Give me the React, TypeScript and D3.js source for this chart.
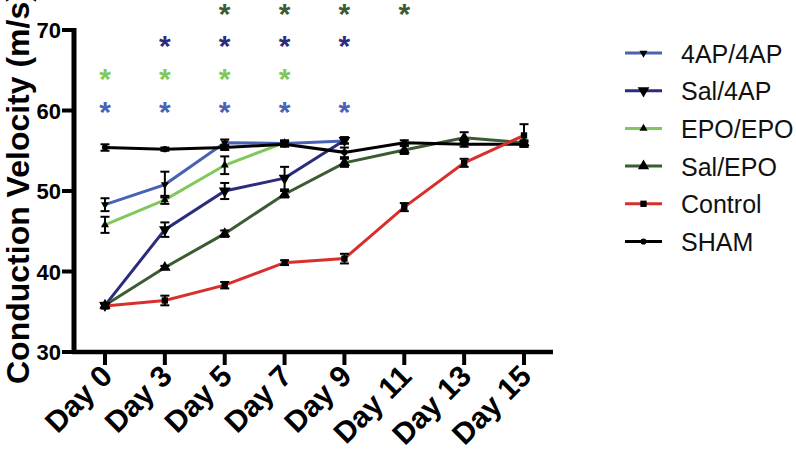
import React, { useEffect, useRef } from 'react';
import * as d3 from 'd3';

const days = ['Day 0', 'Day 3', 'Day 5', 'Day 7', 'Day 9', 'Day 11', 'Day 13', 'Day 15'];
const yTicks = [30, 40, 50, 60, 70];

const ap4ap = [48.3, 50.8, 56.0, 55.9, 56.2];
const ap4apErr = [0.8, 1.6, 0.4, 0.3, 0.3];
const sal4ap = [35.8, 45.2, 50.0, 51.6, 56.3];
const sal4apErr = [0.3, 0.9, 1.0, 1.4, 0.4];
const epoepo = [45.8, 48.9, 53.2, 56.0];
const epoepoErr = [1.0, 0.5, 1.1, 0.3];
const salepo = [35.8, 40.5, 44.7, 49.6, 53.5, 55.1, 56.6, 56.0];
const salepoErr = [0.3, 0.2, 0.4, 0.4, 0.5, 0.5, 0.7, 0.3];
const control = [35.7, 36.4, 38.3, 41.1, 41.6, 48.0, 53.5, 56.9];
const controlErr = [0.3, 0.6, 0.4, 0.3, 0.6, 0.5, 0.5, 1.4];
const sham = [55.4, 55.2, 55.4, 55.8, 54.8, 56.0, 55.8, 55.8];
const shamErr = [0.4, 0.2, 0.3, 0.3, 0.6, 0.3, 0.3, 0.3];

// significance stars: row level + days
const starsSalEpo = ['Day 5', 'Day 7', 'Day 9', 'Day 11'];
const starsSal4ap = ['Day 3', 'Day 5', 'Day 7', 'Day 9'];
const starsEpo = ['Day 0', 'Day 3', 'Day 5', 'Day 7'];
const stars4ap = ['Day 0', 'Day 3', 'Day 5', 'Day 7', 'Day 9'];

const series = [
  { name: '4AP/4AP', values: ap4ap, err: ap4apErr, color: '#4a62b4', symbol: 'down', size: 28 },
  { name: 'Sal/4AP', values: sal4ap, err: sal4apErr, color: '#2b2d7c', symbol: 'downBig', size: 60 },
  { name: 'EPO/EPO', values: epoepo, err: epoepoErr, color: '#80c85a', symbol: 'up', size: 28 },
  { name: 'Sal/EPO', values: salepo, err: salepoErr, color: '#3b5c33', symbol: 'upBig', size: 55 },
  { name: 'Control', values: control, err: controlErr, color: '#d82f2d', symbol: 'square', size: 40 },
  { name: 'SHAM', values: sham, err: shamErr, color: '#000000', symbol: 'circle', size: 30 },
];

const drawOrder = ['4AP/4AP', 'Sal/4AP', 'EPO/EPO', 'Sal/EPO', 'SHAM', 'Control'];

const starRows = [
  { level: 72.7, days: starsSalEpo, color: '#3b5c33' },
  { level: 68.7, days: starsSal4ap, color: '#2b2d7c' },
  { level: 64.7, days: starsEpo, color: '#80c85a' },
  { level: 60.6, days: stars4ap, color: '#4a62b4' },
];

function symPath(kind: string, size: number) {
  const t = kind === 'square' ? d3.symbolSquare : kind === 'circle' ? d3.symbolCircle : d3.symbolTriangle;
  return d3.symbol().type(t).size(size)();
}

export default function App() {
  const ref = useRef<SVGSVGElement>(null);

  useEffect(() => {
    const svg = d3.select(ref.current);
    svg.selectAll('*').remove();

    const x = d3.scalePoint().domain(days).range([105, 524]);
    const y = d3.scaleLinear().domain([30, 70]).range([352, 30]);
    const font = 'Liberation Sans, Arial, Helvetica, sans-serif';

    // axes
    const g = svg.append('g');
    g.append('line').attr('x1', 74).attr('x2', 74).attr('y1', y(70) - 2).attr('y2', 354)
      .attr('stroke', '#000').attr('stroke-width', 5);
    g.append('line').attr('x1', 72).attr('x2', 553).attr('y1', 352).attr('y2', 352)
      .attr('stroke', '#000').attr('stroke-width', 4.5);

    yTicks.forEach(t => {
      g.append('line').attr('x1', 62).attr('x2', 74).attr('y1', y(t)).attr('y2', y(t))
        .attr('stroke', '#000').attr('stroke-width', 4);
      g.append('text').attr('x', 61).attr('y', y(t) + 8).attr('text-anchor', 'end')
        .style('font-family', font).style('font-weight', 'bold').style('font-size', '22px')
        .text(t);
    });

    days.forEach(d => {
      const px = x(d)!;
      g.append('line').attr('x1', px).attr('x2', px).attr('y1', 352).attr('y2', 365)
        .attr('stroke', '#000').attr('stroke-width', 4);
      g.append('text').attr('text-anchor', 'end')
        .attr('transform', `translate(${px + 9}, ${378}) rotate(-45)`)
        .style('font-family', font).style('font-weight', 'bold').style('font-size', '30px')
        .text(d);
    });

    svg.append('text').attr('text-anchor', 'start')
      .attr('transform', `translate(29, 384) rotate(-90)`)
      .style('font-family', font).style('font-weight', 'bold').style('font-size', '32px')
      .text('Conduction Velocity (m/s)');

    // lines
    const line = d3.line<number>().x((_, i) => x(days[i])!).y(v => y(v));
    drawOrder.forEach(n => {
      const s = series.find(e => e.name === n)!;
      svg.append('path').datum(s.values).attr('d', line).attr('fill', 'none')
        .attr('stroke', s.color).attr('stroke-width', 3);
    });

    // error bars + markers
    series.forEach(s => {
      s.values.forEach((v, i) => {
        const px = x(days[i])!;
        const e = s.err[i];
        const eb = svg.append('g').attr('stroke', '#000').attr('stroke-width', 2);
        eb.append('line').attr('x1', px).attr('x2', px).attr('y1', y(v + e)).attr('y2', y(v - e));
        eb.append('line').attr('x1', px - 4.5).attr('x2', px + 4.5).attr('y1', y(v + e)).attr('y2', y(v + e));
        eb.append('line').attr('x1', px - 4.5).attr('x2', px + 4.5).attr('y1', y(v - e)).attr('y2', y(v - e));
        const rot = s.symbol.startsWith('down') ? 180 : 0;
        svg.append('path').attr('d', symPath(s.symbol, s.size))
          .attr('transform', `translate(${px}, ${y(v)}) rotate(${rot})`).attr('fill', '#000');
      });
    });

    // significance stars
    starRows.forEach(r => {
      r.days.forEach(d => {
        svg.append('text').attr('x', x(d)!).attr('y', y(r.level) + 16).attr('text-anchor', 'middle')
          .style('font-family', font).style('font-weight', 'bold').style('font-size', '30px')
          .attr('fill', r.color).text('*');
      });
    });

    // legend
    series.forEach((s, i) => {
      const ly = 53 + i * 37.7;
      const lg = svg.append('g');
      lg.append('line').attr('x1', 625).attr('x2', 662).attr('y1', ly).attr('y2', ly)
        .attr('stroke', s.color).attr('stroke-width', 3);
      const rot = s.symbol.startsWith('down') ? 180 : 0;
      lg.append('path').attr('d', symPath(s.symbol, s.size))
        .attr('transform', `translate(643.5, ${ly}) rotate(${rot})`).attr('fill', '#000');
      lg.append('text').attr('x', 681).attr('y', ly + 9.5)
        .style('font-family', font).style('font-size', '25px').attr('fill', '#111').text(s.name);
    });
  }, []);

  return (
    <svg ref={ref} width={796} height={458}
      style={{ position: 'absolute', left: 0, top: 0, background: '#fff' }} />
  );
}
